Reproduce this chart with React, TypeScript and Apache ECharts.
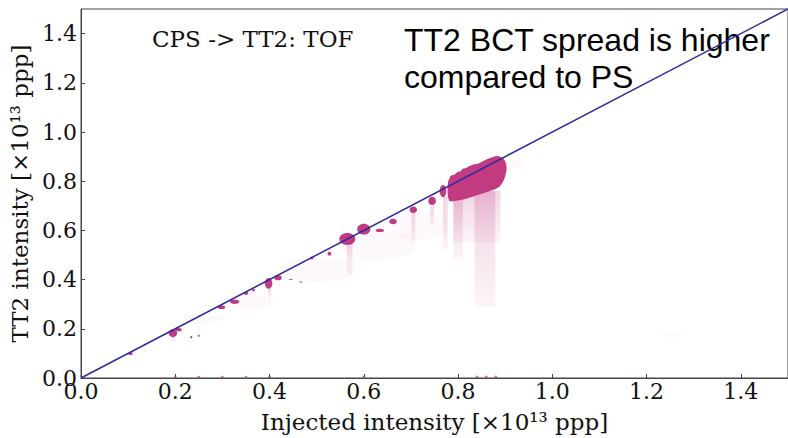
import React, { useEffect, useRef } from "react";
import * as echarts from "echarts";

// Main dense cluster outline: [x, y] in units of 1e13 ppp
const mainCluster: number[][] = [
  [0.781, 0.722],
  [0.779, 0.8],
  [0.79, 0.822],
  [0.8, 0.838],
  [0.812, 0.845],
  [0.822, 0.86],
  [0.843, 0.872],
  [0.865, 0.892],
  [0.884, 0.902],
  [0.898, 0.888],
  [0.903, 0.85],
  [0.897, 0.805],
  [0.886, 0.775],
  [0.865, 0.758],
  [0.843, 0.745],
  [0.822, 0.732],
  [0.8, 0.722],
];

// Smaller dense clusters: [x, y, rx, ry]
const denseBlobs: number[][] = [
  [0.105, 0.099, 0.005, 0.005],
  [0.195, 0.182, 0.009, 0.016],
  [0.207, 0.196, 0.007, 0.007],
  [0.234, 0.166, 0.002, 0.005],
  [0.25, 0.172, 0.002, 0.004],
  [0.298, 0.288, 0.008, 0.008],
  [0.326, 0.31, 0.01, 0.009],
  [0.35, 0.345, 0.005, 0.007],
  [0.366, 0.357, 0.003, 0.005],
  [0.398, 0.385, 0.008, 0.022],
  [0.418, 0.408, 0.008, 0.011],
  [0.445, 0.4, 0.004, 0.002],
  [0.466, 0.39, 0.004, 0.002],
  [0.49, 0.488, 0.003, 0.006],
  [0.527, 0.505, 0.004, 0.008],
  [0.565, 0.565, 0.017, 0.024],
  [0.6, 0.605, 0.014, 0.022],
  [0.634, 0.6, 0.009, 0.007],
  [0.662, 0.636, 0.008, 0.011],
  [0.705, 0.684, 0.008, 0.013],
  [0.745, 0.72, 0.008, 0.017],
  [0.768, 0.76, 0.007, 0.025],
  [0.792, 0.812, 0.01, 0.014],
  [0.815, 0.84, 0.009, 0.013],
  [0.836, 0.858, 0.009, 0.011],
];

// Faint vertical spreads: [x, yLow, yHigh, halfWidth]
const faintStreaks: number[][] = [
  [0.84, 0.55, 0.76, 0.05],
  [0.857, 0.29, 0.76, 0.022],
  [0.8, 0.48, 0.73, 0.01],
  [0.773, 0.52, 0.74, 0.005],
  [0.705, 0.55, 0.68, 0.004],
  [0.745, 0.62, 0.7, 0.004],
  [0.57, 0.42, 0.55, 0.006],
  [0.4, 0.32, 0.37, 0.003],
  [0.195, 0.15, 0.17, 0.003],
];

// Faint haze clouds: [x, y, rx, ry]
const faintClouds: number[][] = [
  [0.35, 0.31, 0.06, 0.03],
  [0.5, 0.44, 0.08, 0.05],
  [0.63, 0.54, 0.08, 0.06],
  [0.72, 0.62, 0.06, 0.06],
  [0.26, 0.24, 0.04, 0.02],
  [0.92, 0.87, 0.02, 0.015],
  [1.255, 0.174, 0.022, 0.008],
];

// Isolated points near zero TT2 intensity
const lowPoints: number[][] = [
  [0.2, 0.003],
  [0.25, 0.003],
  [0.3, 0.003],
  [0.35, 0.003],
  [0.4, 0.003],
  [0.6, 0.003],
  [0.84, 0.004],
  [0.86, 0.004],
  [0.88, 0.004],
];

const identityLine: number[][] = [
  [0, 0],
  [1.5, 1.5],
];

const axisMin = 0;
const axisMax = 1.5;
const tickStep = 0.2;

const xTitle = "Injected intensity [×10¹³ ppp]";
const yTitle = "TT2 intensity [×10¹³ ppp]";
const leftNote = "CPS -> TT2: TOF";
const rightNote = "TT2 BCT spread is higher\ncompared to PS";

const MAG = "#c23a82";
const SERIF = "'DejaVu Serif', serif";

export default function App() {
  const ref = useRef<HTMLDivElement>(null);
  useEffect(() => {
    if (!ref.current) return;
    const chart = echarts.init(ref.current, null, { renderer: "svg" });
    const axisCommon = {
      type: "value" as const,
      min: axisMin,
      max: axisMax,
      interval: tickStep,
      splitLine: { show: false },
      axisLine: { show: true, lineStyle: { color: "#444", width: 1 } },
      axisTick: { show: true, inside: true, length: 4, lineStyle: { color: "#444" } },
      axisLabel: {
        showMaxLabel: false,
        color: "#111",
        fontFamily: SERIF,
        fontSize: 22,
        formatter: (v: number) => v.toFixed(1),
      },
      nameLocation: "middle" as const,
      nameTextStyle: { color: "#111", fontFamily: SERIF, fontSize: 23 },
    };
    chart.setOption({
      animation: false,
      backgroundColor: "#fff",
      grid: {
        left: 81,
        right: -1,
        top: 9,
        bottom: 55,
        show: true,
        borderColor: "#444",
        borderWidth: 1,
      },
      xAxis: {
        ...axisCommon,
        name: xTitle,
        nameGap: 32,
        axisLabel: { ...axisCommon.axisLabel, margin: 2 },
      },
      yAxis: {
        ...axisCommon,
        name: yTitle,
        nameGap: 48,
        axisLabel: { ...axisCommon.axisLabel, margin: 4 },
      },
      series: [
        {
          type: "custom",
          clip: true,
          data: faintClouds,
          renderItem: (_p: any, api: any) => {
            const c = api.coord([api.value(0), api.value(1)]);
            const s = api.size([api.value(2), api.value(3)]);
            return {
              type: "ellipse",
              shape: { cx: c[0], cy: c[1], rx: s[0], ry: s[1] },
              style: { fill: MAG, opacity: 0.035 },
            };
          },
        },
        {
          type: "custom",
          clip: true,
          data: faintStreaks,
          renderItem: (_p: any, api: any) => {
            const x = api.value(0);
            const hw = api.value(3);
            const tl = api.coord([x - hw, api.value(2)]);
            const br = api.coord([x + hw, api.value(1)]);
            return {
              type: "rect",
              shape: { x: tl[0], y: tl[1], width: br[0] - tl[0], height: br[1] - tl[1] },
              style: {
                fill: new echarts.graphic.LinearGradient(0, 0, 0, 1, [
                  { offset: 0, color: "rgba(194,58,130,0.22)" },
                  { offset: 1, color: "rgba(194,58,130,0.05)" },
                ]),
              },
            };
          },
        },
        {
          type: "custom",
          clip: true,
          data: mainCluster,
          renderItem: (p: any, api: any) => {
            if (p.dataIndex !== 0) return null;
            const pts = mainCluster.map((d) => api.coord(d));
            return {
              type: "polygon",
              shape: { points: pts, smooth: 0.3 },
              style: { fill: MAG },
            };
          },
        },
        {
          type: "custom",
          clip: true,
          data: denseBlobs,
          renderItem: (_p: any, api: any) => {
            const c = api.coord([api.value(0), api.value(1)]);
            const s = api.size([api.value(2), api.value(3)]);
            return {
              type: "ellipse",
              shape: { cx: c[0], cy: c[1], rx: s[0], ry: s[1] },
              style: { fill: MAG },
            };
          },
        },
        {
          type: "scatter",
          data: lowPoints,
          symbolSize: 3,
          itemStyle: { color: MAG, opacity: 0.7 },
          silent: true,
        },
        {
          type: "line",
          data: identityLine,
          symbol: "none",
          lineStyle: { color: "#2a2a9c", width: 1.5 },
          silent: true,
        },
      ],
      graphic: [
        {
          type: "text",
          left: 152,
          top: 27,
          style: { text: leftNote, font: `23px ${SERIF}`, fill: "#111" },
        },
        {
          type: "text",
          left: 404,
          top: 21,
          style: {
            text: rightNote,
            font: "32px 'Liberation Sans', Arial, sans-serif",
            lineHeight: 37,
            fill: "#000",
          },
        },
      ],
    });
    return () => chart.dispose();
  }, []);
  return (
    <div
      ref={ref}
      style={{ position: "absolute", left: 0, top: 0, width: 788, height: 438 }}
    />
  );
}
